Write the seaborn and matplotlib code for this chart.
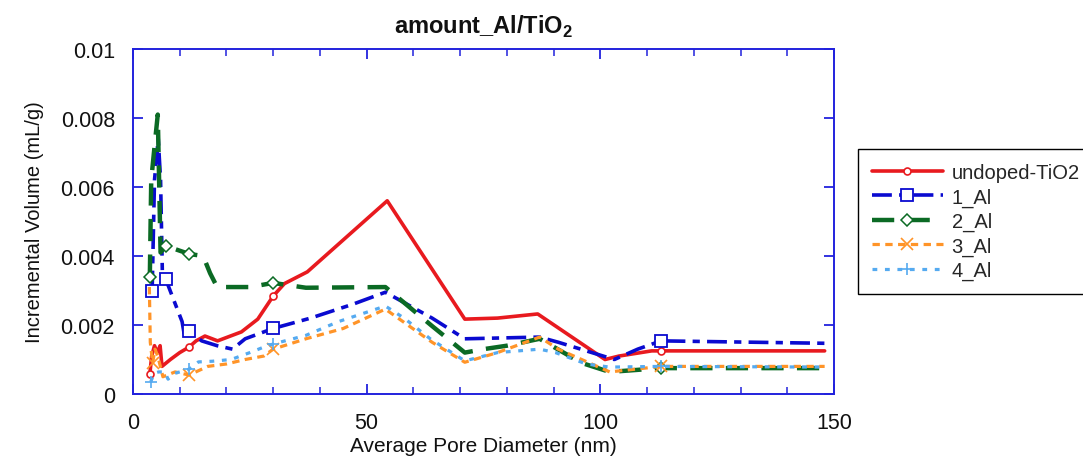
import numpy as np
import matplotlib
matplotlib.use("Agg")
import matplotlib.pyplot as plt
import seaborn as sns
from matplotlib.ticker import MultipleLocator

# ---------------- data ----------------
TITLE = "amount_Al/TiO$_\\mathbf{2}$"
XLABEL = "Average Pore Diameter (nm)"
YLABEL = "Incremental Volume (mL/g)"
SERIES = ["undoped-TiO2", "1_Al", "2_Al", "3_Al", "4_Al"]

x_undoped = [3.6, 4.0, 4.6, 5.2, 5.8, 6.2, 8.0, 10.0, 12.0, 13.5, 15.4, 18.1, 23.2, 26.7,
             30.0, 32.4, 37.3, 54.4, 71.0, 78.0, 86.6, 101.0, 104.0, 111.0, 113.0, 148.0]
y_undoped = [0.00058, 0.0011, 0.0014, 0.0012, 0.0014, 0.0008, 0.0010, 0.0012, 0.00136, 0.00154,
             0.00168, 0.00154, 0.0018, 0.00217, 0.00284, 0.0032, 0.00354, 0.0056, 0.00217, 0.0022,
             0.00232, 0.0010, 0.0011, 0.00125, 0.00125, 0.00125]

x_al1 = [4.1, 4.6, 5.4, 5.9, 6.3, 7.0, 8.5, 10.5, 11.0, 12.0, 14.7, 18.0, 21.3, 24.0, 30.0,
         38.0, 47.0, 54.0, 64.0, 71.0, 87.0, 91.0, 103.0, 108.0, 113.0, 148.0]
y_al1 = [0.0030, 0.0062, 0.0074, 0.0062, 0.0034, 0.00333, 0.0028, 0.0021, 0.0017, 0.00183,
         0.00154, 0.0014, 0.0013, 0.0016, 0.0019, 0.0022, 0.0026, 0.00295, 0.0022, 0.0016,
         0.00165, 0.0015, 0.0010, 0.0013, 0.00154, 0.00147]

x_al2 = [3.6, 3.9, 4.7, 5.3, 5.9, 7.0, 9.0, 12.0, 15.0, 16.5, 18.0, 21.0, 25.0, 30.0, 37.0,
         54.0, 64.0, 71.0, 75.0, 80.0, 87.0, 96.0, 102.0, 113.0, 148.0]
y_al2 = [0.0034, 0.0062, 0.0073, 0.0081, 0.0041, 0.0043, 0.0042, 0.00406, 0.0040, 0.0035,
         0.0031, 0.0031, 0.0031, 0.00322, 0.00308, 0.0031, 0.00197, 0.0012, 0.0013, 0.0014,
         0.0016, 0.0009, 0.00064, 0.00075, 0.00075]

x_al3 = [3.5, 3.7, 4.2, 4.7, 5.3, 6.4, 9.0, 12.0, 16.0, 20.0, 24.0, 28.0, 30.0, 37.0, 45.0,
         54.0, 64.0, 71.0, 78.0, 87.0, 91.0, 102.0, 113.0, 148.0]
y_al3 = [0.0031, 0.0015, 0.0009, 0.0013, 0.0011, 0.0005, 0.00064, 0.00055, 0.0008, 0.00087,
         0.0010, 0.0011, 0.0013, 0.0016, 0.0019, 0.00246, 0.0015, 0.00092, 0.0012, 0.00165,
         0.0013, 0.00064, 0.0008, 0.0008]

x_al4 = [3.8, 4.5, 5.5, 6.8, 7.5, 9.0, 12.0, 14.0, 17.0, 21.0, 25.0, 28.0, 30.0, 37.0, 44.0,
         54.0, 58.0, 63.6, 71.0, 78.0, 87.0, 90.4, 97.0, 102.0, 113.0, 148.0]
y_al4 = [0.00035, 0.0006, 0.00064, 0.00064, 0.00043, 0.0006, 0.00072, 0.00093, 0.00095, 0.0010,
         0.0012, 0.00136, 0.00145, 0.0017, 0.0021, 0.00255, 0.0022, 0.0016, 0.00096, 0.0012,
         0.0013, 0.0012, 0.00087, 0.00078, 0.0008, 0.00078]

# pore diameters at which the symbols are drawn
marks_undoped = [3.6, 12.0, 30.0, 113.0]
marks_al1 = [4.1, 7.0, 12.0, 30.0, 113.0]
marks_al2 = [3.6, 7.0, 12.0, 30.0, 113.0]
marks_al3 = [4.2, 12.0, 30.0, 113.0]
marks_al4 = [3.8, 12.0, 30.0, 113.0]

XS = [x_undoped, x_al1, x_al2, x_al3, x_al4]
YS = [y_undoped, y_al1, y_al2, y_al3, y_al4]
MARKS = [marks_undoped, marks_al1, marks_al2, marks_al3, marks_al4]

# ---------------- styles ----------------
STYLES = [
    dict(color="#e81a1f", lw=2.6, ls="-", marker="o", ms=5, mew=1.2),
    dict(color="#0a0ad0", lw=2.6, ls=(0, (5.5, 2.0, 2.0, 2.0)), marker="s", ms=8, mew=1.3),
    dict(color="#0b6a24", lw=3.2, ls=(0, (5.0, 3.0)), marker="D", ms=6, mew=1.1),
    dict(color="#ff9428", lw=2.3, ls=(0, (2.3, 1.7)), marker="x", ms=8, mew=1.2),
    dict(color="#55aaf0", lw=2.3, ls=(0, (1.5, 2.4)), marker="+", ms=9, mew=1.2),
]

sns.set_theme(style="white")
plt.rcParams["font.family"] = ["Liberation Sans", "DejaVu Sans"]
plt.rcParams["mathtext.fontset"] = "custom"
plt.rcParams["mathtext.rm"] = "Liberation Sans"
plt.rcParams["mathtext.bf"] = "Liberation Sans:bold"

W, H = 1083, 460
fig = plt.figure(figsize=(W / 100, H / 100), dpi=100)
fig.patch.set_facecolor("white")
ax = fig.add_axes([133 / W, 1 - 395 / H, (834 - 133) / W, (395 - 50) / H])
ax.set_facecolor("white")

for name, xs, ys, mk, st in zip(SERIES, XS, YS, MARKS, STYLES):
    xa = np.asarray(xs)
    idx = sorted({int(np.argmin(np.abs(xa - m))) for m in mk})
    sns.lineplot(x=xs, y=ys, ax=ax, sort=False, estimator=None,
                 color=st["color"], lw=st["lw"], linestyle=st["ls"],
                 marker=st["marker"], markevery=idx, ms=st["ms"],
                 mfc="white" if st["marker"] not in ("x", "+") else st["color"],
                 mec=st["color"], mew=st["mew"], label=name)

if ax.get_legend() is not None:
    ax.get_legend().remove()

ax.set_xlim(0, 150)
ax.set_ylim(0, 0.01)
ax.xaxis.set_major_locator(MultipleLocator(50))
ax.xaxis.set_minor_locator(MultipleLocator(10))
ax.yaxis.set_major_locator(MultipleLocator(0.002))
ax.set_xticks([0, 50, 100, 150])
ax.set_xticklabels(["0", "50", "100", "150"])
ax.set_yticks([0, 0.002, 0.004, 0.006, 0.008, 0.01])
ax.set_yticklabels(["0", "0.002", "0.004", "0.006", "0.008", "0.01"])

spine_c = "#2222dd"
for s in ax.spines.values():
    s.set_color(spine_c)
    s.set_linewidth(1.4)
    s.set_visible(True)
ax.tick_params(which="both", direction="in", colors=spine_c, labelcolor="#111111",
               top=True, right=True, bottom=True, left=True, labelsize=15.5, pad=13)
ax.tick_params(which="major", length=7, width=1.3)
ax.tick_params(which="minor", length=5, width=1.1)
ax.grid(False)

ax.set_xlabel(XLABEL, fontsize=15, color="#111111", labelpad=2)
ax.set_ylabel(YLABEL, fontsize=14.5, color="#111111", labelpad=12)
ax.set_title(TITLE, fontsize=17, fontweight="bold", color="#111111", pad=12)

handles, labels = ax.get_legend_handles_labels()
leg = fig.legend(handles, labels, loc="upper left",
                 bbox_to_anchor=(858 / W, 1 - 150 / H), fontsize=14.5,
                 frameon=True, fancybox=False, edgecolor="black", framealpha=1,
                 handlelength=3.5, handletextpad=0.45, labelspacing=0.26,
                 borderpad=0.7, borderaxespad=0, numpoints=1)
leg.get_frame().set_linewidth(1.0)

fig.savefig("out.png", dpi=100, facecolor="white")
